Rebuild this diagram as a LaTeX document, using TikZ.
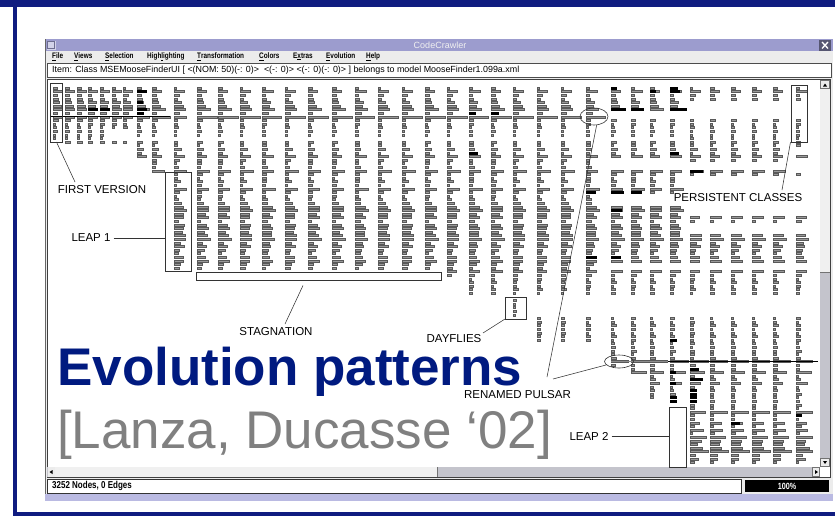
\documentclass[tikz,border=0pt]{standalone}
\usepackage{fontspec}
\setmainfont{Liberation Sans}
\newfontfamily\narrowfont[FakeStretch=0.8]{Liberation Sans}
\usetikzlibrary{shapes.geometric}

\definecolor{framenavy}{RGB}{16,28,128}
\definecolor{titlenavy}{RGB}{0,26,128}
\definecolor{citegray}{RGB}{128,128,128}
\definecolor{barlav}{RGB}{156,156,206}
\definecolor{lavband}{RGB}{186,186,226}
\definecolor{menugray}{RGB}{236,236,236}
\definecolor{scrollgray}{RGB}{196,196,204}

% width (in px) of the class mark in each row of the evolution matrix
\def\Wlist{3,10,4,4,7,8,12,5,20,4,3,3,3,2,2,4,3,6,3,10,4,3,4,12,4,3,5,3,12,4,3,4,6,10,12,8,10,4,9,10,8,10,12,6,9,6,4,8,10,6,4,10,4,3,4,3,4,3,2,2,2,2,2,2,3,3,4,3,3,4,3,3,3,4,3,4,18,4,3,14,3,4,10,3,3,4,3,3,4,3,16,4,3,10,4,12,3,16,10,8,12,18,6,8,3}

\tikzset{
  classmark/.style={fill=black!40, draw=black!65, line width=0.3pt},
  blackmark/.style={fill=black, draw=black, line width=0.3pt},
  annbox/.style={draw=black!80, line width=0.6pt, inner sep=0pt, outer sep=0pt},
  annline/.style={draw=black!80, line width=0.55pt},
  annlabel/.style={font=\fontsize{11.5}{12}\selectfont, inner sep=0pt, text=black},
  menuitem/.style={font=\narrowfont\bfseries\fontsize{8}{9}\selectfont, anchor=west, inner sep=0pt},
}

% one version column: x position, largest mark width, row ranges a/b
\newcommand\versioncol[3]{%
  \foreach \a/\b in {#3}{%
    \foreach \r in {\a,...,\b}{%
      \pgfmathsetmacro\wb{{\Wlist}[\r]}%
      \pgfmathsetmacro\w{max(2,min(\wb+mod(\r*7+#1,3)-1,#2))}%
      \pgfmathsetmacro\y{88+3.6*\r}%
      \path[classmark] (#1,\y-1) rectangle ++(\w,2);
    }%
  }%
}

\begin{document}
\begin{tikzpicture}[x=1pt,y=-1pt]
\useasboundingbox (0,0) rectangle (835,517);
\fill[white] (0,0) rectangle (835,517);

% slide frame
\fill[framenavy] (0,0) rectangle (835,7);
\fill[framenavy] (13,0) rectangle (17,516);
\fill[framenavy] (13,512) rectangle (835,516);

% application window
\fill[menugray] (45,39) rectangle (833,501);
\fill[barlav] (45,39) rectangle (833,51);
\fill[barlav!45!white] (46.5,40.5) rectangle (55.5,49.5);
\draw[barlav!70!black, line width=0.5pt] (47.5,41.5) rectangle (54.5,48.5);
\node[text=black!6, font=\fontsize{9}{10}\selectfont, inner sep=0pt] (wtitle) at (440,45) {CodeCrawler};
\fill[barlav!55!black] (819,40) rectangle (831,50.5);
\draw[white, line width=1.3pt] (822,42) -- (828,48.5) (822,48.5) -- (828,42);

% menu bar
\node[menuitem] (mfile) at (52,56.5) {\underline{F}ile};
\node[menuitem] (mviews) at (74,56.5) {\underline{V}iews};
\node[menuitem] (msel) at (105,56.5) {\underline{S}election};
\node[menuitem] (mhigh) at (147,56.5) {High\underline{l}ighting};
\node[menuitem] (mtrans) at (197,56.5) {\underline{T}ransformation};
\node[menuitem] (mcol) at (259,56.5) {\underline{C}olors};
\node[menuitem] (mext) at (293,56.5) {E\underline{x}tras};
\node[menuitem] (mevo) at (326,56.5) {\underline{E}volution};
\node[menuitem] (mhelp) at (366,56.5) {\underline{H}elp};

% item field
\fill[white] (47,63) rectangle (831,77);
\draw[black!70, line width=0.8pt] (47,63) rectangle (831,77);
\node[anchor=west, inner sep=0pt, font=\fontsize{8.9}{10}\selectfont] (item) at (52,70.5)
  {Item: Class MSEMooseFinderUI [ <(NOM: 50)(-: 0)>\ \ <(-: 0)> <(-: 0)(-: 0)> ] belongs to model MooseFinder1.099a.xml};

% drawing canvas
\fill[white] (47,79) rectangle (820,467);
\draw[black!60, line width=0.6pt] (45.3,39) -- (45.3,501);
\draw[black!75, line width=0.7pt] (47.5,79.5) rectangle (830.5,477.5);

% vertical scroll bar
\fill[scrollgray] (820,80) rectangle (830,467);
\fill[black!6] (820,89) rectangle (830,272);
\draw[black!55, line width=0.5pt] (820,272) -- (830,272);
\fill[menugray] (820,80) rectangle (830,89);
\draw[black!55, line width=0.4pt] (820.5,80.5) rectangle (829.5,88.5);
\fill[black] (823,86.5) -- (827,86.5) -- (825,83.5) -- cycle;
\fill[menugray] (820,458) rectangle (830,467);
\draw[black!55, line width=0.4pt] (820.5,458.5) rectangle (829.5,466.5);
\fill[black] (823,461) -- (827,461) -- (825,464) -- cycle;

% horizontal scroll bar
\fill[scrollgray] (47,467) rectangle (820,477);
\fill[black!6] (55,467) rectangle (437,477);
\draw[black!55, line width=0.5pt] (437,467) -- (437,477);
\fill[menugray] (47.5,467) rectangle (55,477);
\fill[black] (52.5,470) -- (52.5,474) -- (49.5,472) -- cycle;
\fill[menugray] (812,467) rectangle (820,477);
\draw[black!55, line width=0.4pt] (812.5,467.5) rectangle (819.5,476.5);
\fill[black] (815,470) -- (815,474) -- (818,472) -- cycle;
\fill[white] (820,467) rectangle (830,477);

% status bar
\fill[white] (47,479) rectangle (741,493);
\draw[black!80, line width=0.7pt] (47,479) rectangle (741,493);
\node[anchor=west, inner sep=0pt, font=\narrowfont\bfseries\fontsize{10}{11}\selectfont] (status) at (52,486) {3252 Nodes, 0 Edges};
\fill[black] (745,480) rectangle (829,492);
\node[text=white, inner sep=0pt, font=\narrowfont\bfseries\fontsize{9}{10}\selectfont] (zoompct) at (787,486) {100\%};
\fill[lavband] (45,494) rectangle (833,501);

% evolution matrix: one column per version
\versioncol{53}{9}{0/14}
\foreach \cx in {65,77,88,100} {\versioncol{\cx}{9}{0/15}}
\foreach \cx in {112,123} {\versioncol{\cx}{9}{0/11,15/15}}
\versioncol{137}{12}{0/13,15/19}
\versioncol{152}{18}{0/13,15/23}
\versioncol{174}{12}{0/13,15/50}
\foreach \cx in {197,218,240,262,285,308,332,355,378,402,425} {\versioncol{\cx}{20}{0/13,15/50}}
\versioncol{447}{20}{0/13,15/52}
\foreach \cx in {469,491} {\versioncol{\cx}{20}{0/13,15/57}}
\versioncol{513}{20}{0/13,15/57,59/63}
\foreach \cx in {537,561,586} {\versioncol{\cx}{20}{0/13,15/57,64/70}}
\versioncol{611}{18}{0/6,9/13,15/19,23/29,33/48,51/57,64/77}
\versioncol{631}{18}{0/6,9/13,15/19,23/29,33/48,51/57,64/79}
\versioncol{650}{18}{0/6,9/13,15/19,23/29,33/48,51/57,64/86}
\versioncol{670}{18}{0/6,9/13,15/19,23/29,33/48,51/57,64/87}
\foreach \cx in {690,710,731,752,773} {\versioncol{\cx}{18}{0/3,9/14,15/20,23/24,36/37,41/48,51/57,64/104}}
\versioncol{796}{16}{0/3,9/14,15/16,19/19,24/24,36/37,41/48,51/57,64/104}

% heavy classes drawn in black
\foreach \cx/\r/\w in {88/6/9,100/6/9,137/1/9,137/4/5,137/6/9,137/7/6,
  469/7/6,491/7/7,611/0/5,611/6/14,631/6/12,650/1/5,670/0/7,670/1/9,670/6/16,
  469/18/8,670/18/8,586/29/9,611/29/12,631/29/10,611/34/10,586/47/10,611/47/9,
  690/23/12,670/70/6,670/79/5,670/82/5,670/86/6,670/87/6,690/78/8,690/81/12,
  690/84/6,690/85/6,690/86/6,690/87/6,731/93/8,796/91/5}{
  \path[blackmark] (\cx,88+3.6*\r-1) rectangle ++(\w,2);
}

% classes spanning many versions
\draw[black, line width=1.2pt] (50,116.8) -- (170,116.8);
\draw[black!45, line width=1.5pt] (611,361.6) -- (668,361.6);
\draw[black, line width=1.2pt] (668,361.6) -- (818,361.6);

% pattern annotations
\node[annbox, minimum width=12, minimum height=59] (fvbox) at (56.5,112.5) {};
\node[annlabel] (fvlab) at (102,190) {FIRST VERSION};
\coordinate (fvtip) at (75,182);
\draw[annline] (fvbox.south) -- (fvtip);

\node[annbox, minimum width=26, minimum height=99] (l1box) at (178.5,221.5) {};
\node[annlabel] (l1lab) at (91,238) {LEAP 1};
\draw[annline] (l1lab.east) ++(3,0) -- (l1box.west |- l1lab.east);

\node[annbox, minimum width=245, minimum height=8] (stbox) at (318.5,276) {};
\node[annlabel] (stlab) at (276,332) {STAGNATION};
\coordinate (stA) at (303,285.5);
\coordinate (stB) at (285,324);
\draw[annline] (stA) -- (stB);

\node[annbox, minimum width=21, minimum height=22] (dfbox) at (515.5,308) {};
\node[annlabel] (dflab) at (454,339) {DAYFLIES};
\coordinate (dfA) at (483,333);
\draw[annline] (dfA) -- (dfbox.south west);

\node[annbox, minimum width=16, minimum height=57] (pcbox) at (799,113.5) {};
\node[annlabel] (pclab) at (738,198) {PERSISTENT CLASSES};
\coordinate (pcA) at (790.5,142);
\coordinate (pcB) at (782,190);
\draw[annline] (pcA) -- (pcB);

\node[draw=black!80, line width=0.6pt, ellipse, inner sep=0pt, minimum width=28, minimum height=17] (pulsarA) at (594,116.5) {};
\node[draw=black!80, line width=0.6pt, ellipse, inner sep=0pt, minimum width=29, minimum height=13] (pulsarB) at (619,361.5) {};
\node[annlabel] (rplab) at (517.5,395) {RENAMED PULSAR};
\coordinate (rpA) at (547,377);
\coordinate (rpB) at (553,379);
\draw[annline] (rpA) -- (pulsarA.-73);
\draw[annline] (rpB) -- (pulsarB.195);

\node[annbox, minimum width=17, minimum height=60] (l2box) at (677.5,437) {};
\node[annlabel] (l2lab) at (589,436) {LEAP 2};
\draw[annline] (l2lab.east) ++(3,0) -- (l2box.west |- l2lab.east);

% slide title
\node[anchor=base west, inner sep=0pt, text height=38pt, text depth=0pt, text=titlenavy, font=\fontsize{53}{60}\selectfont\bfseries] (ttl) at (57,385) {Evolution patterns};
\node[anchor=base west, inner sep=0pt, text height=38pt, text depth=0pt, text=citegray, font=\fontsize{53}{60}\selectfont] (cite) at (57,448) {[Lanza, Ducasse ‘02]};
\end{tikzpicture}
\end{document}
